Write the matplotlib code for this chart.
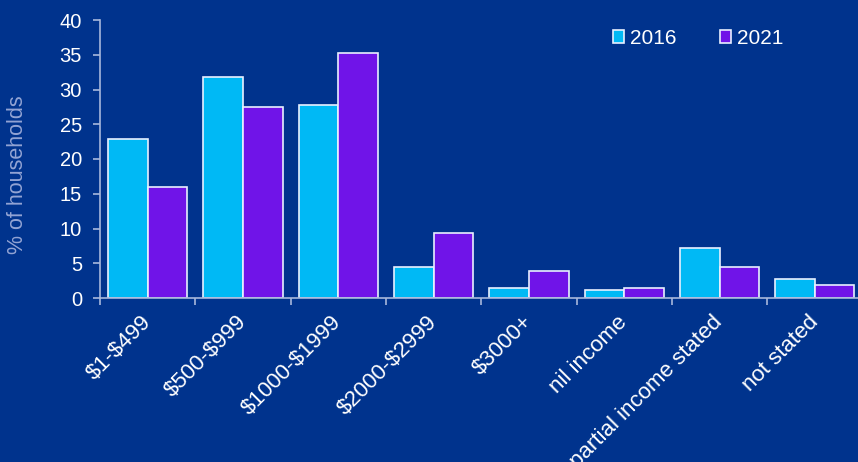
import matplotlib
matplotlib.use("Agg")
import matplotlib.pyplot as plt
import numpy as np

categories = ["$1-$499", "$500-$999", "$1000-$1999", "$2000-$2999", "$3000+",
              "nil income", "partial income stated", "not stated"]
v2016 = [22.9, 31.8, 27.8, 4.5, 1.5, 1.15, 7.2, 2.75]
v2021 = [15.9, 27.5, 35.2, 9.4, 3.9, 1.45, 4.4, 1.85]
yticks = [0, 5, 10, 15, 20, 25, 30, 35, 40]

bg = "#00338D"
c16 = "#00B9F5"
c21 = "#7014E8"
axcol = "#A8B8DC"

plt.rcParams['font.family'] = ['Liberation Sans', 'DejaVu Sans']
plt.rcParams['text.parse_math'] = False

W, H = 858, 462
fig = plt.figure(figsize=(W/100, H/100), dpi=100, facecolor=bg)
ax = fig.add_axes([100/W, 1-298/H, 762.6/W, 278/H], facecolor=bg)
ax.patch.set_alpha(0)

x = np.arange(len(categories)) + 0.5
w = 0.415
ax.bar(x - w/2, v2016, w, color=c16, edgecolor="#E8F0FF", linewidth=1.2, label="2016")
ax.bar(x + w/2, v2021, w, color=c21, edgecolor="#E8F0FF", linewidth=1.2, label="2021")

ax.set_xlim(0, len(categories))
ax.set_ylim(0, 40)
ax.set_yticks(yticks)
ax.set_yticklabels([str(t) for t in yticks], color="white", fontsize=14.5)
ax.set_xticks(np.arange(len(categories)))
ax.set_xticklabels([])
ax.set_xticks(x, minor=True)
ax.set_xticklabels(categories, minor=True, rotation=45, ha="right", va="center",
                   rotation_mode="anchor", color="white", fontsize=16)
ax.tick_params(axis="x", which="minor", length=0, pad=15)
ax.tick_params(axis="x", which="major", length=5, color=axcol, width=1.2)
ax.tick_params(axis="y", length=5, color=axcol, width=1.2, pad=8)

for s in ["top", "right"]:
    ax.spines[s].set_visible(False)
for s in ["left", "bottom"]:
    ax.spines[s].set_color(axcol)
    ax.spines[s].set_linewidth(1.2)

fig.text(18/W, 1-175/H, "% of households", color="#93A4D4", fontsize=15.5,
         rotation=90, ha="center", va="center")

leg = ax.legend(loc="upper left", bbox_to_anchor=((613-100)/762.6, (298-29)/278), ncol=2,
                frameon=False, borderpad=0, borderaxespad=0,
                fontsize=15, handlelength=0.55, handleheight=0.55, handletextpad=0.25,
                columnspacing=2.1, labelcolor="white")

fig.savefig("out.png", dpi=100, facecolor=bg)
